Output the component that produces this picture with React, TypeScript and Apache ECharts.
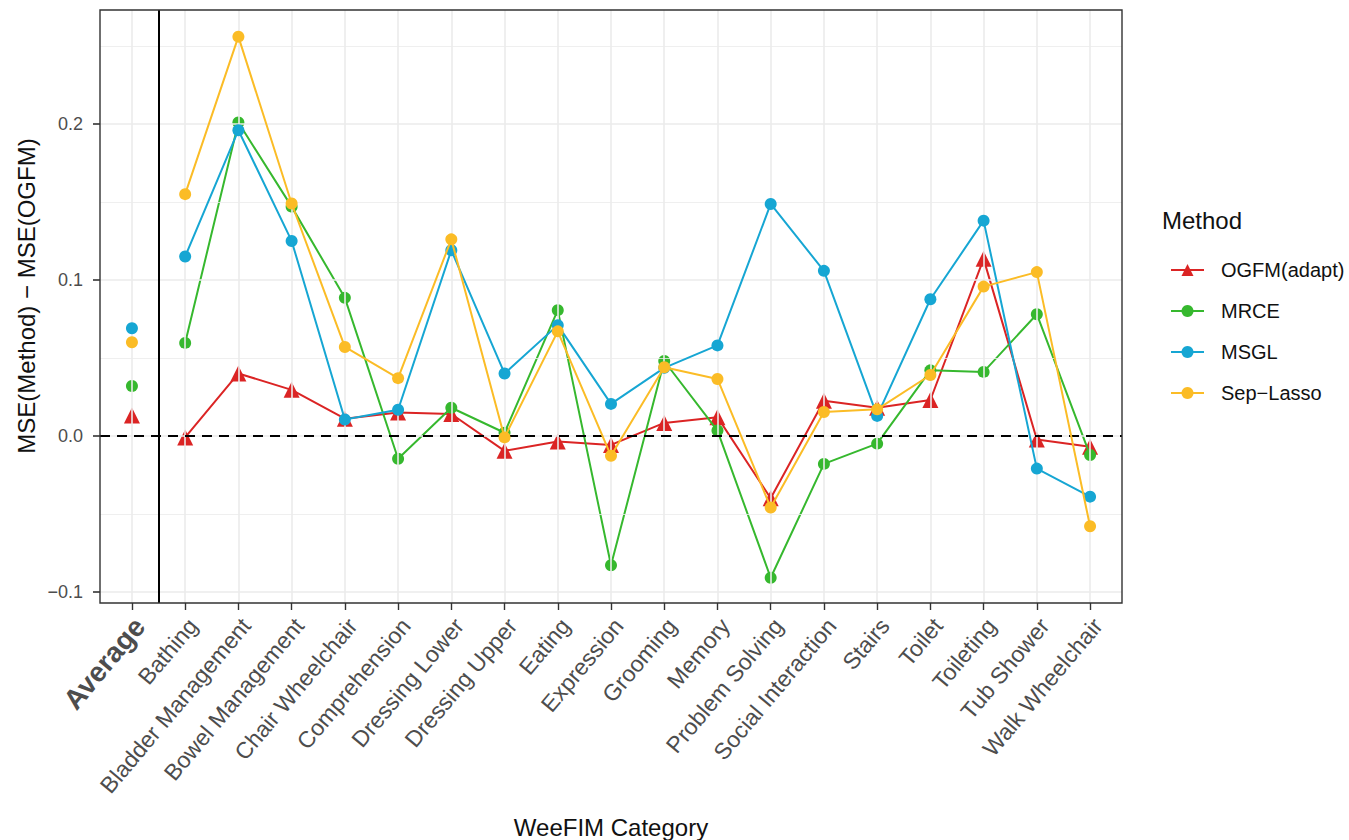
import React, { useEffect, useRef } from "react";
import * as echarts from "echarts";

// WeeFIM categories (index 0 is the across-category average)
const categories = [
  "Average",
  "Bathing",
  "Bladder Management",
  "Bowel Management",
  "Chair Wheelchair",
  "Comprehension",
  "Dressing Lower",
  "Dressing Upper",
  "Eating",
  "Expression",
  "Grooming",
  "Memory",
  "Problem Solving",
  "Social Interaction",
  "Stairs",
  "Toilet",
  "Toileting",
  "Tub Shower",
  "Walk Wheelchair",
];

const methods = ["OGFM(adapt)", "MRCE", "MSGL", "Sep\u2212Lasso"];

// MSE(Method) - MSE(OGFM), first entry is the average
const ogfmAdapt = [0.013, -0.001, 0.040, 0.0295, 0.011, 0.015, 0.014, -0.0096, -0.0036, -0.0058, 0.0083, 0.012, -0.040, 0.0225, 0.018, 0.023, 0.1135, -0.0024, -0.007];
const mrce = [0.032, 0.0596, 0.201, 0.147, 0.0885, -0.0147, 0.018, 0.002, 0.0806, -0.083, 0.048, 0.0034, -0.091, -0.018, -0.005, 0.042, 0.041, 0.078, -0.0123];
const msgl = [0.069, 0.115, 0.196, 0.125, 0.0105, 0.0167, 0.119, 0.040, 0.071, 0.0205, 0.0436, 0.058, 0.1487, 0.1058, 0.0128, 0.0876, 0.138, -0.021, -0.039];
const sepLasso = [0.060, 0.155, 0.256, 0.149, 0.057, 0.037, 0.126, -0.001, 0.067, -0.0128, 0.044, 0.0365, -0.046, 0.0153, 0.017, 0.039, 0.0957, 0.105, -0.058];

const methodValues = [ogfmAdapt, mrce, msgl, sepLasso];
const methodColors = ["#DB2424", "#36B82E", "#16A6D3", "#FBBC26"];
const methodSymbols = ["triangle", "circle", "circle", "circle"];
const methodSymbolSizes = [16, 12, 12, 12];

const yTicks = [-0.1, 0, 0.1, 0.2];
const yMinorGrid = [-0.05, 0.05, 0.15, 0.25];

const FONT = "'Liberation Sans', Arial, Helvetica, sans-serif";

export default function App() {
  const ref = useRef<HTMLDivElement>(null);

  useEffect(() => {
    if (!ref.current) return;
    const chart = echarts.init(ref.current, null, { renderer: "svg" });

    const catIdx = categories.map((_, i) => i);

    const gridLines = [
      ...yTicks.map((v) => ({ yAxis: v, lineStyle: { color: "#EBEBEB", width: 1.6, type: "solid" } })),
      ...yMinorGrid.map((v) => ({ yAxis: v, lineStyle: { color: "#EBEBEB", width: 0.8, type: "solid" } })),
      ...catIdx.map((i) => ({ xAxis: i, lineStyle: { color: "#EBEBEB", width: 1.6, type: "solid" } })),
    ];

    const lineSeries = methods.map((name, m) => ({
      name,
      type: "line",
      z: 3 + m,
      data: methodValues[m].slice(1).map((v, k) => [k + 1, v]),
      symbol: methodSymbols[m],
      symbolSize: methodSymbolSizes[m],
      showSymbol: true,
      itemStyle: { color: methodColors[m], opacity: 1 },
      lineStyle: { color: methodColors[m], width: 2 },
      emphasis: { disabled: true },
    }));

    const averageSeries = methods.map((name, m) => ({
      name,
      type: "scatter",
      z: 3 + m,
      data: [[0, methodValues[m][0]]],
      symbol: methodSymbols[m],
      symbolSize: methodSymbolSizes[m],
      itemStyle: { color: methodColors[m], opacity: 1 },
      emphasis: { disabled: true },
    }));

    const option: any = {
      animation: false,
      backgroundColor: "#ffffff",
      textStyle: { fontFamily: FONT },
      grid: {
        left: 100,
        right: 227,
        top: 10,
        bottom: 237,
        show: true,
        borderColor: "#333333",
        borderWidth: 1.4,
        backgroundColor: "transparent",
        z: 20,
      },
      xAxis: {
        type: "value",
        min: -0.6,
        max: 18.6,
        axisLine: { show: false, onZero: false },
        splitLine: { show: false },
        axisTick: {
          show: true,
          customValues: catIdx,
          length: 7,
          lineStyle: { color: "#333333", width: 1.4 },
        },
        axisLabel: {
          customValues: catIdx,
          rotate: 50,
          margin: 12,
          fontSize: 23,
          color: "#4D4D4D",
          fontFamily: FONT,
          padding: [20, 0, 0, 0],
          formatter: (v: number) => {
            const i = Math.round(v);
            const label = categories[i] ?? "";
            return i === 0 ? `{avg|${label}}` : label;
          },
          rich: {
            avg: { fontSize: 28, fontWeight: "bold", color: "#4D4D4D", fontFamily: FONT },
          },
        },
      },
      yAxis: {
        type: "value",
        min: -0.1072,
        max: 0.2731,
        axisLine: { show: false, onZero: false },
        splitLine: { show: false },
        axisTick: {
          show: true,
          customValues: yTicks,
          length: 7,
          lineStyle: { color: "#333333", width: 1.6 },
        },
        axisLabel: {
          customValues: yTicks,
          margin: 17,
          fontSize: 18,
          color: "#4D4D4D",
          fontFamily: FONT,
          formatter: (v: number) => (v < 0 ? "\u2212" + Math.abs(v).toFixed(1) : v.toFixed(1)),
        },
      },
      legend: {
        data: methods,
        orient: "vertical",
        left: 1165,
        top: 255,
        itemWidth: 33,
        itemHeight: 15,
        itemGap: 21,
        selectedMode: false,
        textStyle: { fontSize: 20, color: "#111111", fontFamily: FONT, padding: [0, 0, 0, 12] },
      },
      graphic: [
        {
          type: "text",
          x: 26,
          y: 296,
          rotation: Math.PI / 2,
          style: {
            text: "MSE(Method) \u2212 MSE(OGFM)",
            fontSize: 24,
            fontFamily: FONT,
            fill: "#111111",
            textAlign: "center",
            textVerticalAlign: "middle",
          },
        },
        {
          type: "text",
          x: 611,
          y: 827,
          style: {
            text: "WeeFIM Category",
            fontSize: 24,
            fontFamily: FONT,
            fill: "#111111",
            textAlign: "center",
            textVerticalAlign: "middle",
          },
        },
        {
          type: "text",
          x: 1162,
          y: 220,
          style: {
            text: "Method",
            fontSize: 24,
            fontFamily: FONT,
            fill: "#111111",
            textAlign: "left",
            textVerticalAlign: "middle",
          },
        },
      ],
      series: [
        {
          name: "gridlines",
          type: "line",
          data: [],
          z: 1,
          silent: true,
          markLine: {
            silent: true,
            symbol: ["none", "none"],
            label: { show: false },
            emphasis: { disabled: true },
            data: gridLines,
          },
        },
        ...lineSeries,
        ...averageSeries,
        {
          name: "reference",
          type: "line",
          data: [],
          z: 12,
          silent: true,
          markLine: {
            silent: true,
            symbol: ["none", "none"],
            label: { show: false },
            emphasis: { disabled: true },
            data: [
              { yAxis: 0, lineStyle: { color: "#000000", width: 2, type: [10, 7] } },
              { xAxis: 0.5, lineStyle: { color: "#000000", width: 2, type: "solid" } },
            ],
          },
        },
      ],
    };

    chart.setOption(option);
    return () => chart.dispose();
  }, []);

  return (
    <div
      ref={ref}
      style={{ position: "fixed", left: 0, top: 0, width: 1349, height: 840, background: "#ffffff" }}
    />
  );
}
